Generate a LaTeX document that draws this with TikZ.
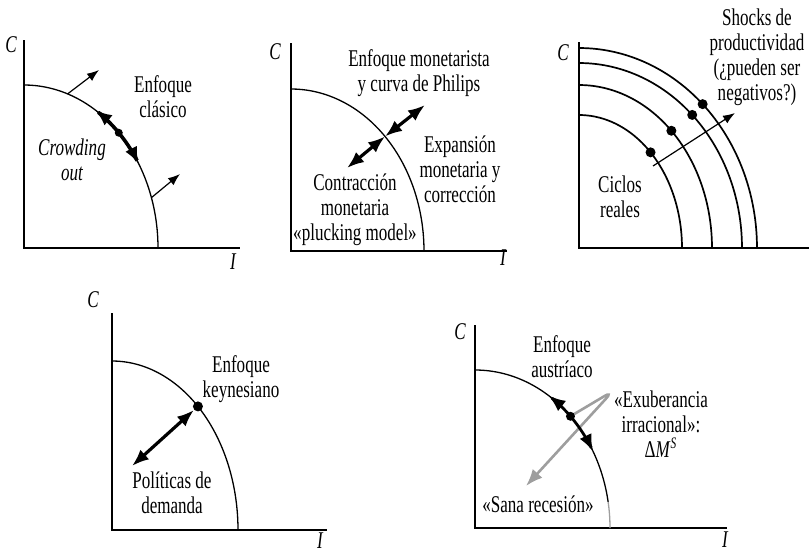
\documentclass[tikz,border=0pt]{standalone}
\usepackage{fontspec}
\setmainfont[FakeStretch=0.71]{Liberation Serif}
\usetikzlibrary{arrows.meta}

\begin{document}
\begin{tikzpicture}[x=0.5pt,y=-0.5pt,
  axis/.style={line width=1pt},
  ppf/.style={line width=0.65pt},
  lbl/.style={align=center,inner sep=0pt,font=\fontsize{12}{12.5}\selectfont},
  varlbl/.style={lbl,font=\fontsize{12}{12.5}\selectfont\itshape},
  arr/.style={-{Latex[length=6pt,width=4.5pt]},line width=0.6pt},
  dbl/.style={{Latex[length=8.5pt,width=6.5pt]}-{Latex[length=8.5pt,width=6.5pt]},line width=1.6pt},
  grayarr/.style={-{Latex[length=8.5pt,width=6.5pt]},line width=1.3pt,draw=black!38,
                  rounded corners=5pt},
  dot/.style={circle,fill=black,inner sep=0pt,minimum size=4pt}]
  \useasboundingbox (0,0) rectangle (809,552);

  % classical view
  \draw[axis] (24,40) -- (24,248) -- (240,248);
  \node[varlbl] (c1) at (11,45) {C};
  \node[varlbl] (i1) at (233,262) {I};
  \draw[ppf] plot[variable=\t,domain=0:90,samples=40,smooth]
    ({24+134*cos(\t)},{248-163*sin(\t)});
  \coordinate (a1) at ({24+134*cos(71)},{248-163*sin(71)});
  \coordinate (a1e) at (99,70);
  \coordinate (b1) at ({24+134*cos(18)},{248-163*sin(18)});
  \coordinate (b1e) at (180,174);
  \draw[arr] (a1) -- (a1e);
  \draw[arr] (b1) -- (b1e);
  \draw[dbl,line width=1.8pt] plot[variable=\t,domain=58:31,samples=15,smooth]
    ({24+134*cos(\t)},{248-163*sin(\t)});
  \node[dot] (e1) at ({24+134*cos(45)},{248-163*sin(45)}) {};
  \node[lbl] (clasico) at (163,97) {Enfoque\\clásico};
  \node[varlbl] (crowding) at (72,160) {Crowding\\out};

  % monetarist view
  \draw[axis] (291,43) -- (291,251) -- (507,251);
  \node[varlbl] (c2) at (275,52) {C};
  \node[varlbl] (i2) at (503,258) {I};
  \draw[ppf] plot[variable=\t,domain=0:90,samples=40,smooth]
    ({291+133*cos(\t)},{251-162*sin(\t)});
  \coordinate (m2) at ({291+133*cos(45)},{251-162*sin(45)});
  \coordinate (ur2) at (425,105);
  \coordinate (ll2) at (347,168);
  \draw[dbl] (m2) -- (ur2);
  \draw[dbl] (m2) -- (ll2);
  \node[lbl] (monet) at (419,73) {Enfoque monetarista\\y curva de Philips};
  \node[lbl] (expan) at (460,169) {Expansión\\monetaria y\\corrección};
  \node[lbl] (contr) at (355,210) {Contracción\\monetaria\\«plucking model»};

  % real business cycles
  \draw[axis] (579,42) -- (579,248) -- (809,248);
  \node[varlbl] (c3) at (563,53) {C};
  \foreach \a/\b in {103/133,133/163,163/185,178/200}{
    \draw[ppf,line width=0.85pt] plot[variable=\t,domain=0:90,samples=40,smooth]
      ({579+\a*cos(\t)},{248-\b*sin(\t)});
    \node[dot,minimum size=5pt] (r\a) at ({579+\a*cos(46)},{248-\b*sin(46)}) {};
  }
  \coordinate (s3) at (653,166);
  \coordinate (s3e) at (735,113);
  \draw[arr] (s3) -- (s3e);
  \node[lbl] (shocks) at (757,57) {Shocks de\\productividad\\(¿pueden ser\\negativos?)};
  \node[lbl] (ciclos) at (620,197) {Ciclos\\reales};

  % keynesian view
  \draw[axis] (112,313) -- (112,530) -- (327,530);
  \node[varlbl] (c4) at (93,300) {C};
  \node[varlbl] (i4) at (320,541) {I};
  \draw[ppf] plot[variable=\t,domain=0:90,samples=40,smooth]
    ({112+126*cos(\t)},{530-169*sin(\t)});
  \node[dot,minimum size=5pt] (d4) at ({112+126*cos(47)},{530-169*sin(47)}) {};
  \coordinate (ll4) at (132,466);
  \draw[dbl] (ll4) -- (d4);
  \node[lbl] (keynes) at (241,379) {Enfoque\\keynesiano};
  \node[lbl] (politicas) at (172,493) {Políticas de\\demanda};

  % austrian view
  \draw[axis] (475,325) -- (475,528) -- (727,528);
  \node[varlbl] (c5) at (460,332) {C};
  \node[varlbl] (i5) at (725,540) {I};
  \draw[ppf] plot[variable=\t,domain=9.5:90,samples=40,smooth]
    ({475+135*cos(\t)},{528-158*sin(\t)});
  \draw[ppf,draw=black!38] plot[variable=\t,domain=0:9.5,samples=6,smooth]
    ({475+135*cos(\t)},{528-158*sin(\t)});
  \coordinate (e5c) at ({475+135*cos(45)},{528-158*sin(45)});
  \coordinate (tip5) at (613,391);
  \coordinate (ll5) at (526,486);
  \draw[grayarr] (e5c) -- (tip5) -- (ll5);
  \draw[dbl,line width=1.4pt] plot[variable=\t,domain=57:29,samples=15,smooth]
    ({475+135*cos(\t)},{528-158*sin(\t)});
  \node[dot,minimum size=4.5pt] (e5) at (e5c) {};
  \node[lbl] (austr) at (562,357) {Enfoque\\austríaco};
  \node[lbl] (exub) at (661,424) {«Exuberancia\\irracional»:\\Δ\textit{M}\textsuperscript{\textit{S}}};
  \node[lbl] (sana) at (538,504) {«Sana recesión»};
\end{tikzpicture}
\end{document}
